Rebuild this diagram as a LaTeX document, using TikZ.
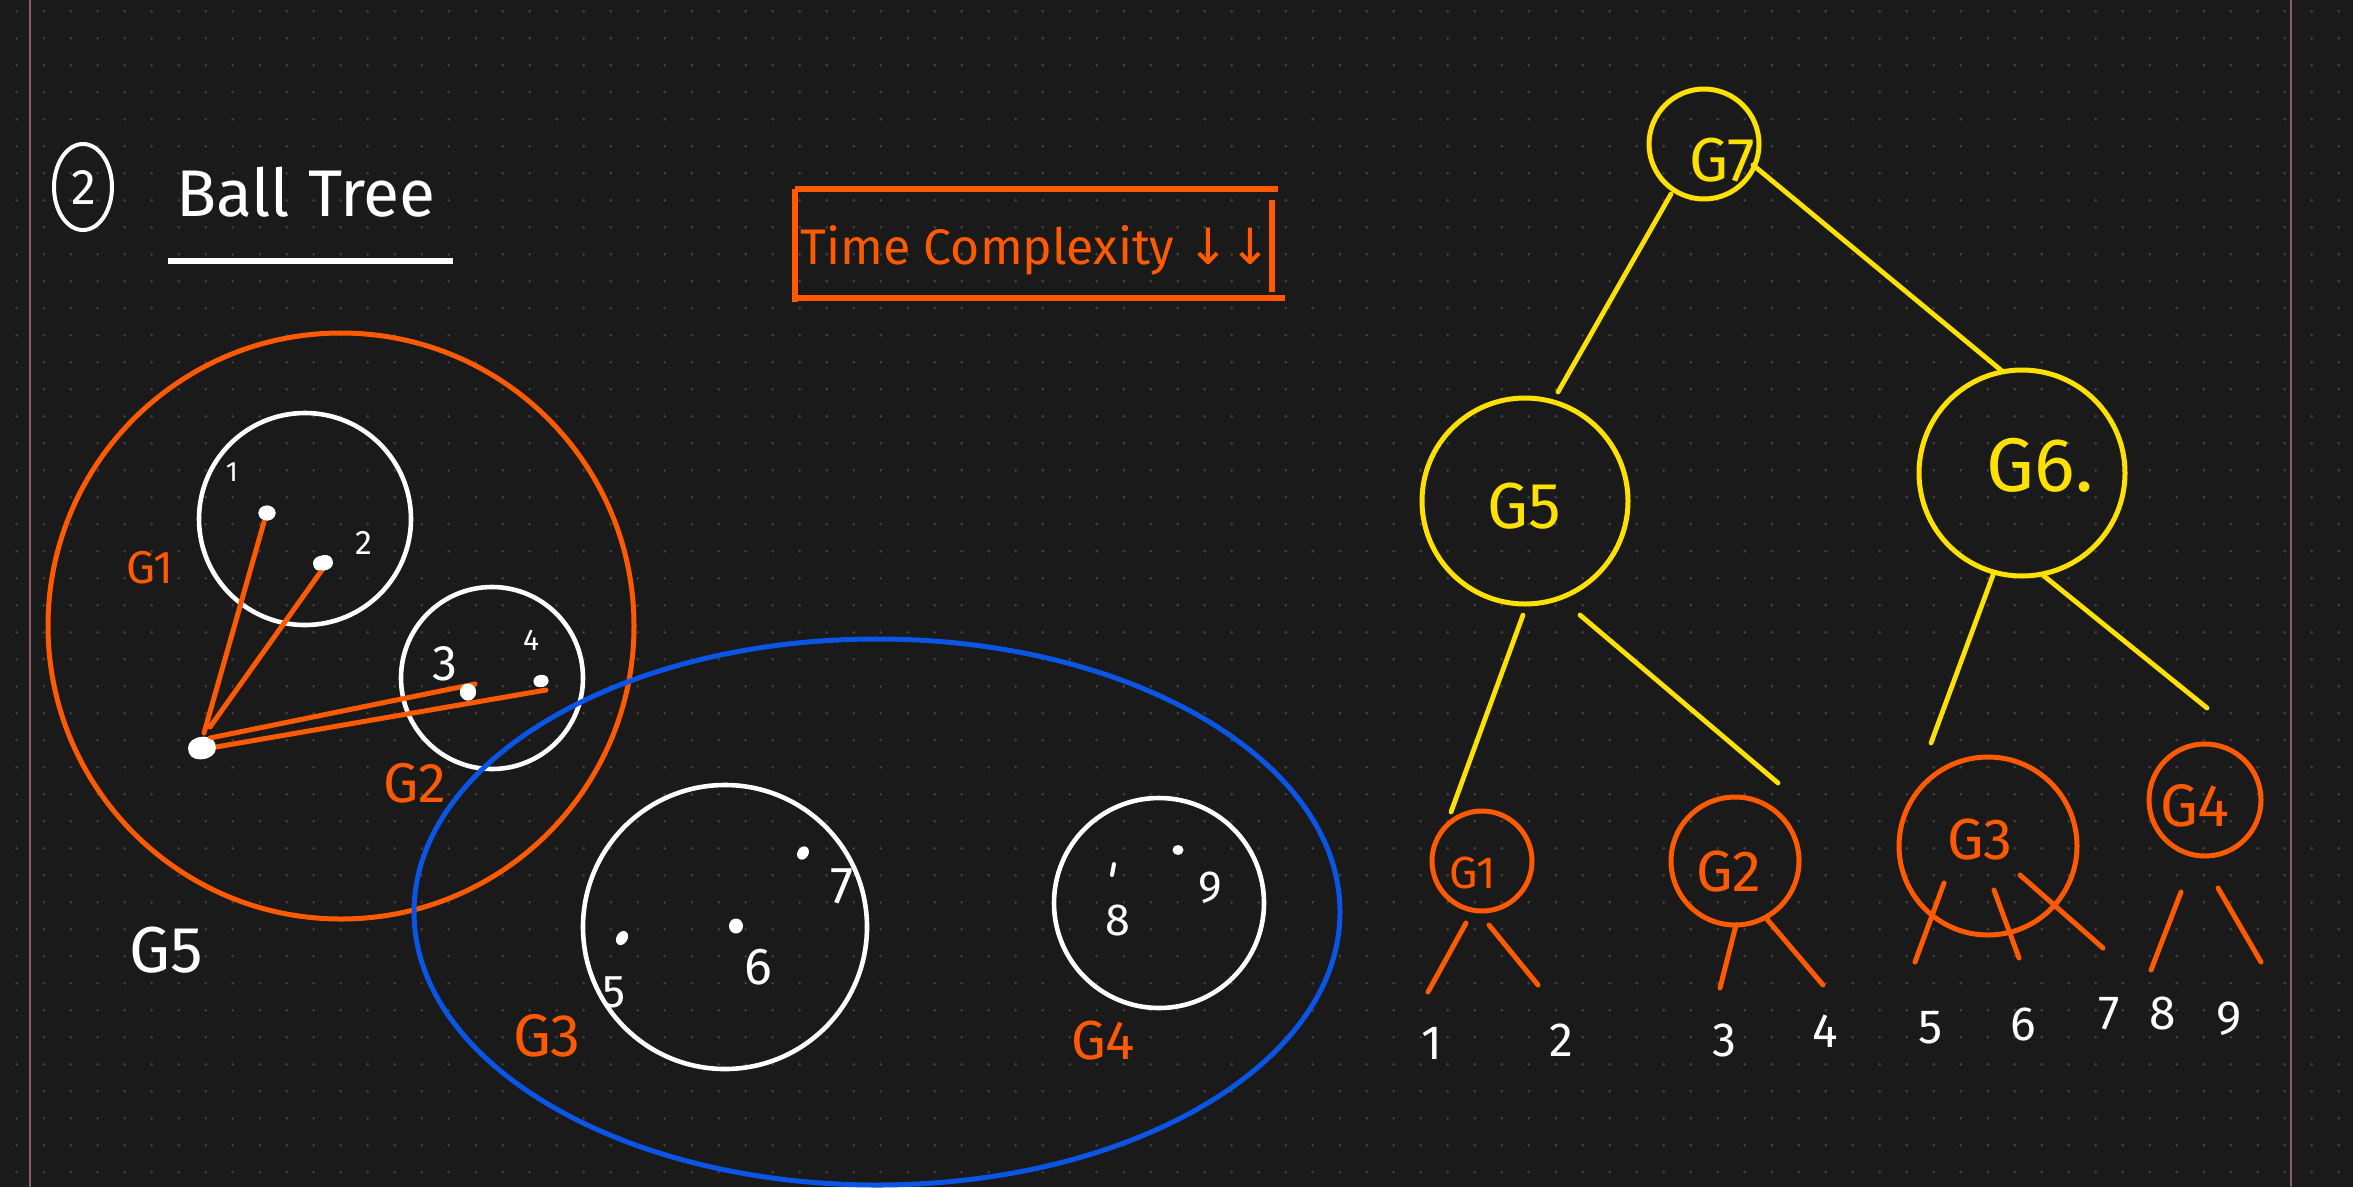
\documentclass[tikz,border=0pt]{standalone}
\usepackage{fontspec}
\setmainfont{Fira Sans}
\newfontfamily\dejavu{DejaVu Sans}
\usetikzlibrary{calc,shapes.geometric}
\definecolor{bg}{HTML}{1A1A1A}
\definecolor{dotc}{HTML}{3E3E3E}
\definecolor{pinkl}{HTML}{8C5A6E}
\definecolor{org}{HTML}{FF5A00}
\definecolor{ylw}{HTML}{FFE100}
\definecolor{blu}{HTML}{0A55E6}
\newcommand\hsz[1]{\fontsize{#1}{#1}\selectfont}
\begin{document}
\begin{tikzpicture}[x=1pt,y=-1pt,
  every node/.style={inner sep=0pt, outer sep=0pt},
  wcirc/.style={draw=white, line width=4.6pt},
  oline/.style={draw=org, line width=5pt, line cap=round},
  yline/.style={draw=ylw, line width=4.8pt, line cap=round},
  ycirc/.style={circle, draw=ylw, line width=5pt, inner sep=0pt},
  ocirc/.style={circle, draw=org, line width=5pt, inner sep=0pt},
  wtxt/.style={text=white},
  otxt/.style={text=org},
  ytxt/.style={text=ylw},
  wdot/.style={ellipse, fill=white, inner sep=0pt}
]
\useasboundingbox (0,0) rectangle (2353,1187);
\fill[bg] (0,0) rectangle (2353,1187);
% dot grid
\foreach \j in {0,...,43} {
  \draw[dotc, line width=3.2pt, line cap=round, dash pattern=on 0pt off 27pt]
    (16.7, {11.3+27*\j}) -- (2353, {11.3+27*\j});
}
% margin lines
\draw[pinkl, line width=2pt] (30,0) -- (30,1187);
\draw[pinkl, line width=2pt] (2291,0) -- (2291,1187);

% ---- title ----
\draw[white, line width=4pt] (83,187) ellipse [x radius=29pt, y radius=43pt];
\node[wtxt, font=\hsz{50}] (num2) at (84,188) {2};
\node[wtxt, font=\hsz{66}] (title) at (306,192) {Ball\hspace{18pt}Tree};
\draw[white, line width=5.5pt] (168,261) -- (453,261);

% ---- time complexity box ----
\draw[org, line width=5.5pt] (795,189) -- (1278,189);
\draw[org, line width=5.5pt] (795,298) -- (1285,298);
\draw[org, line width=5.5pt] (795,189) -- (795,302);
\draw[org, line width=5.5pt] (1272,200) -- (1272,292);
\node[otxt, font=\hsz{50}] (tc) at (1036,250) {Time Complexity {\dejavu ↓↓}};

% ---- left diagram ----
\draw[org, line width=5pt] (341,626) circle [radius=293pt];
\draw[wcirc] (305,519) circle [radius=106pt];
\draw[wcirc] (492,678) circle [radius=91pt];
\draw[blu, line width=5pt] (877,912) ellipse [x radius=463pt, y radius=273pt];
\draw[wcirc] (725,927) circle [radius=142pt];
\draw[wcirc] (1159,903) circle [radius=105pt];

% points
\node[wdot, minimum width=28pt, minimum height=22pt, rotate=20] (P) at (202,748) {};
\node[wdot, minimum width=17pt, minimum height=15pt] (p1) at (267,513) {};
\node[wdot, minimum width=20pt, minimum height=15pt, rotate=25] (p2) at (323,563) {};
\node[wdot, minimum width=16pt, minimum height=17pt] (p3) at (468,692) {};
\node[wdot, minimum width=15pt, minimum height=12pt, rotate=20] (p4) at (541,681) {};
\node[wdot, minimum width=11pt, minimum height=15pt, rotate=-30] (p5) at (622,938) {};
\node[wdot, minimum width=14pt, minimum height=15pt] (p6) at (736,926) {};
\node[wdot, minimum width=11pt, minimum height=14pt, rotate=-30] (p7) at (803,853) {};
\node[wdot, minimum width=11pt, minimum height=10pt] (p9) at (1178,850) {};
\draw[white, line width=4pt, line cap=round] (1114,864) -- (1112,875);

% orange connections from P
\draw[oline] ($(P)+(2,-15)$) -- ($(p1)+(-3,9)$);
\draw[oline] ($(P)+(8,-21)$) -- ($(p2)+(-1,7)$);
\draw[oline] ($(P)+(8,-10)$) -- ($(p3)+(7,-8)$);
\draw[oline] ($(P)+(14,-1)$) -- ($(p4)+(5,9)$);
% redraw points on top
\fill[white] (202,748) ellipse [x radius=14pt, y radius=11pt];
\fill[white] (267,513) ellipse [x radius=8.5pt, y radius=7.5pt];
\fill[white] (323,563) ellipse [x radius=10pt, y radius=7.5pt];
\fill[white] (468,692) ellipse [x radius=8pt, y radius=8.5pt];
\fill[white] (541,681) ellipse [x radius=7.5pt, y radius=6pt];

% left labels
\node[wtxt, font=\hsz{28}] (t1) at (232,472) {1};
\node[wtxt, font=\hsz{34}] (t2) at (364,543) {2};
\node[wtxt, font=\hsz{50}] (t3) at (445,664) {3};
\node[wtxt, font=\hsz{30}] (t4) at (531,640) {4};
\node[wtxt, font=\hsz{46}] (t5) at (614,992) {5};
\node[wtxt, font=\hsz{52}] (t6) at (758,967) {6};
\node[wtxt, font=\hsz{52}] (t7) at (842,886) {7};
\node[wtxt, font=\hsz{45}] (t8) at (1118,920) {8};
\node[wtxt, font=\hsz{45}] (t9) at (1210,888) {9};
\node[otxt, font=\hsz{46}] (lg1) at (150,568) {G1};
\node[otxt, font=\hsz{56}] (lg2) at (415,783) {G2};
\node[otxt, font=\hsz{60}] (lg3) at (547,1036) {G3};
\node[otxt, font=\hsz{55}] (lg4) at (1103,1041) {G4};
\node[wtxt, font=\hsz{65}] (lg5) at (166,950) {G5};

% ---- tree ----
\node[ycirc, minimum size=110pt] (G7) at (1704,144) {};
\node[ycirc, minimum size=206pt] (G5) at (1525,501) {};
\node[ycirc, minimum size=206pt] (G6) at (2022,473) {};
\node[ocirc, minimum size=100pt] (G1) at (1482,861) {};
\node[ocirc, minimum size=128pt] (G2) at (1735,861) {};
\node[ocirc, minimum size=178pt] (G3) at (1988,846) {};
\node[ocirc, minimum size=112pt] (G4) at (2205,800) {};

\node[ytxt, font=\hsz{62}] (tG7) at (1722,160) {G7};
\node[ytxt, font=\hsz{65}] (tG5) at (1524,506) {G5};
\node[ytxt, font=\hsz{76}] (tG6) at (2040,465) {G6.};
\node[otxt, font=\hsz{45}] (tG1) at (1473,873) {G1};
\node[otxt, font=\hsz{58}] (tG2) at (1729,872) {G2};
\node[otxt, font=\hsz{58}] (tG3) at (1980,840) {G3};
\node[otxt, font=\hsz{60}] (tG4) at (2195,806) {G4};

% yellow edges
\draw[yline] ($(G7)+(-33,50)$) -- ($(G5)+(33,-109)$);
\draw[yline] ($(G7)+(49,21)$) -- ($(G6)+(-20,-102)$);
\draw[yline] ($(G5)+(-2,114)$) -- ($(G1)+(-31,-49)$);
\draw[yline] ($(G5)+(55,114)$) -- ($(G2)+(43,-78)$);
\draw[yline] ($(G6)+(-29,102)$) -- ($(G3)+(-57,-103)$);
\draw[yline] ($(G6)+(22,103)$) -- ($(G4)+(2,-92)$);

% leaves
\node[wtxt, font=\hsz{48}] (n1) at (1432,1043) {1};
\node[wtxt, font=\hsz{48}] (n2) at (1561,1040) {2};
\node[wtxt, font=\hsz{48}] (n3) at (1724,1040) {3};
\node[wtxt, font=\hsz{48}] (n4) at (1825,1031) {4};
\node[wtxt, font=\hsz{48}] (n5) at (1931,1028) {5};
\node[wtxt, font=\hsz{48}] (n6) at (2023,1024) {6};
\node[wtxt, font=\hsz{48}] (n7) at (2109,1014) {7};
\node[wtxt, font=\hsz{48}] (n8) at (2163,1013) {8};
\node[wtxt, font=\hsz{48}] (n9) at (2229,1019) {9};

\draw[oline] ($(G1)+(-16,62)$) -- ($(n1)+(-4,-51)$);
\draw[oline] ($(G1)+(7,64)$) -- ($(n2)+(-23,-55)$);
\draw[oline] ($(G2)+(1,64)$) -- ($(n3)+(-4,-52)$);
\draw[oline] ($(G2)+(31,57)$) -- ($(n4)+(-2,-46)$);
\draw[oline] ($(G3)+(-44,37)$) -- ($(n5)+(-16,-66)$);
\draw[oline] ($(G3)+(6,44)$) -- ($(n6)+(-4,-66)$);
\draw[oline] ($(G3)+(32,29)$) -- ($(n7)+(-6,-66)$);
\draw[oline] ($(G4)+(-24,92)$) -- ($(n8)+(-12,-43)$);
\draw[oline] ($(G4)+(13,88)$) -- ($(n9)+(32,-57)$);
\end{tikzpicture}
\end{document}
